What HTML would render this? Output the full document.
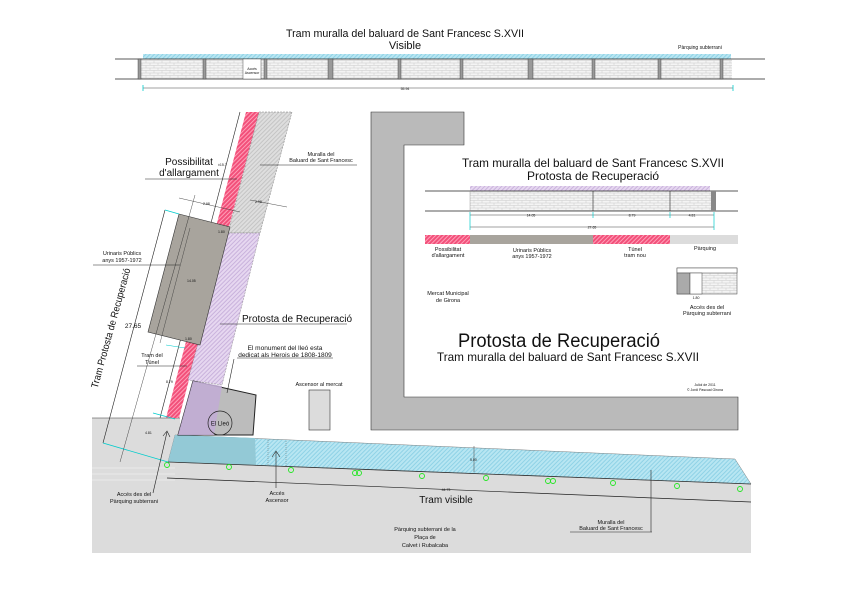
<!DOCTYPE html>
<html><head><meta charset="utf-8"><style>
html,body{margin:0;padding:0;background:#fff}
svg{display:block}
text{font-family:"Liberation Sans",sans-serif;fill:#111}
</style></head><body>
<svg width="842" height="595" viewBox="0 0 842 595" xmlns="http://www.w3.org/2000/svg">
<defs>
<pattern id="red" width="3" height="3" patternUnits="userSpaceOnUse" patternTransform="rotate(45)"><rect width="3" height="3" fill="#f2507a"/><rect width="1" height="3" fill="#ff9fb8"/></pattern>
<pattern id="gry" width="3" height="3" patternUnits="userSpaceOnUse" patternTransform="rotate(45)"><rect width="3" height="3" fill="#dedede"/><rect width="1" height="3" fill="#c4c4c4"/></pattern>
<pattern id="pur" width="3" height="3" patternUnits="userSpaceOnUse" patternTransform="rotate(45)"><rect width="3" height="3" fill="#e6d7f0"/><rect width="1" height="3" fill="#c9b2dc"/></pattern>
<pattern id="cy" width="3" height="3" patternUnits="userSpaceOnUse" patternTransform="rotate(45)"><rect width="3" height="3" fill="#b8e6f2"/><rect width="1" height="3" fill="#8fd2e6"/></pattern>
<pattern id="brick" width="8" height="5" patternUnits="userSpaceOnUse"><rect width="8" height="5" fill="#f4f4f4"/><path d="M0 0.5H8M0 3H8M2 0.5V3M6 3V5.5" stroke="#c8c8c8" stroke-width="0.5"/></pattern>
</defs>

<!-- top section -->
<text x="405" y="37" font-size="11" text-anchor="middle" textLength="238" lengthAdjust="spacingAndGlyphs">Tram muralla del baluard de Sant Francesc S.XVII</text>
<text x="405" y="49" font-size="11" text-anchor="middle">Visible</text>
<text x="700" y="49" font-size="5" text-anchor="middle">Pàrquing subterrani</text>
<rect x="143" y="54" width="588" height="5" fill="url(#cy)"/>
<rect x="140" y="59" width="592" height="20" fill="url(#brick)"/>
<line x1="115" y1="59" x2="765" y2="59" stroke="#222" stroke-width="0.8"/>
<line x1="115" y1="79" x2="765" y2="79" stroke="#222" stroke-width="0.8"/>
<g fill="#999" stroke="#333" stroke-width="0.4">
<rect x="138" y="59" width="3" height="20"/><rect x="203" y="59" width="3" height="20"/><rect x="264" y="59" width="3" height="20"/><rect x="328" y="59" width="5" height="20"/><rect x="398" y="59" width="3" height="20"/><rect x="460" y="59" width="3" height="20"/><rect x="528" y="59" width="5" height="20"/><rect x="592" y="59" width="3" height="20"/><rect x="658" y="59" width="3" height="20"/><rect x="720" y="59" width="3" height="20"/>
</g>
<rect x="243" y="59" width="18" height="20" fill="#fff" stroke="#333" stroke-width="0.4"/>
<text x="252" y="70" font-size="3.5" text-anchor="middle">Accés</text><text x="252" y="74" font-size="3.5" text-anchor="middle">Ascensor</text>
<line x1="143" y1="88" x2="733" y2="88" stroke="#444" stroke-width="0.5"/>
<line x1="143" y1="85" x2="143" y2="91" stroke="#0cc" stroke-width="0.8"/><line x1="733" y1="85" x2="733" y2="91" stroke="#0cc" stroke-width="0.8"/>
<text x="405" y="90" font-size="3.5" text-anchor="middle">55.94</text>

<!-- gray frame -->
<path d="M371 112H464V145H404V397H738V430H371Z" fill="#bababa" stroke="#333" stroke-width="0.6"/>

<!-- right panel -->
<text x="593" y="167" font-size="12" text-anchor="middle" textLength="262" lengthAdjust="spacingAndGlyphs">Tram muralla del baluard de Sant Francesc S.XVII</text>
<text x="593" y="180" font-size="12" text-anchor="middle">Protosta de Recuperació</text>
<rect x="470" y="186" width="240" height="5" fill="url(#pur)"/>
<rect x="470" y="191" width="242" height="20" fill="url(#brick)"/>
<line x1="425" y1="191" x2="738" y2="191" stroke="#222" stroke-width="0.8"/>
<line x1="425" y1="211" x2="738" y2="211" stroke="#222" stroke-width="0.8"/>
<line x1="470" y1="191" x2="470" y2="211" stroke="#888" stroke-width="0.4"/>
<line x1="593" y1="191" x2="593" y2="211" stroke="#222" stroke-width="0.6"/>
<line x1="670" y1="191" x2="670" y2="211" stroke="#222" stroke-width="0.6"/>
<rect x="711" y="191" width="5" height="20" fill="#888"/>
<line x1="470" y1="215" x2="714" y2="215" stroke="#444" stroke-width="0.5"/>
<line x1="470" y1="227" x2="714" y2="227" stroke="#444" stroke-width="0.5"/>
<g stroke="#0cc" stroke-width="0.7"><line x1="470" y1="212" x2="470" y2="230"/><line x1="593" y1="212" x2="593" y2="218"/><line x1="670" y1="212" x2="670" y2="218"/><line x1="714" y1="212" x2="714" y2="230"/></g>
<text x="531" y="216.5" font-size="3.5" text-anchor="middle">14.05</text><text x="632" y="216.5" font-size="3.5" text-anchor="middle">8.79</text><text x="692" y="216.5" font-size="3.5" text-anchor="middle">4.81</text><text x="592" y="228.5" font-size="3.5" text-anchor="middle">27.65</text>
<rect x="425" y="235" width="45" height="9" fill="url(#red)"/>
<rect x="470" y="235" width="123" height="9" fill="#a8a49d"/>
<rect x="593" y="235" width="77" height="9" fill="url(#red)"/>
<rect x="670" y="235" width="68" height="9" fill="#dcdcdc"/>
<g font-size="5.5" text-anchor="middle">
<text x="448" y="251">Possibilitat</text><text x="448" y="257">d'allargament</text>
<text x="532" y="252">Urinaris Públics</text><text x="532" y="258">anys 1957-1972</text>
<text x="635" y="251">Túnel</text><text x="635" y="257">tram nou</text>
<text x="705" y="250">Pàrquing</text>
<text x="448" y="295">Mercat Municipal</text><text x="448" y="302">de Girona</text>
<text x="707" y="309">Accés des del</text><text x="707" y="315">Pàrquing subterrani</text>
</g>
<rect x="677" y="268" width="60" height="26" fill="url(#brick)" stroke="#444" stroke-width="0.5"/>
<rect x="677" y="268" width="60" height="5" fill="#fff" stroke="#444" stroke-width="0.5"/>
<rect x="677" y="273" width="13" height="21" fill="#aaa" stroke="#444" stroke-width="0.5"/>
<rect x="690" y="273" width="12" height="21" fill="#fff" stroke="#444" stroke-width="0.5"/>
<text x="696" y="299" font-size="3.5" text-anchor="middle">1.80</text>
<text x="559" y="347" font-size="19" text-anchor="middle" textLength="202" lengthAdjust="spacingAndGlyphs">Protosta de Recuperació</text>
<text x="568" y="361" font-size="12" text-anchor="middle" textLength="262" lengthAdjust="spacingAndGlyphs">Tram muralla del baluard de Sant Francesc S.XVII</text>
<text x="705" y="386" font-size="3.5" text-anchor="middle">Juliol de 2011</text>
<text x="705" y="391" font-size="3.5" text-anchor="middle">© Jordi Pascual Girona</text>

<!-- ground -->
<path d="M92 418H180V435L735 459L751 484V553H92Z" fill="#dcdcdc"/>
<line x1="92" y1="418" x2="180" y2="418" stroke="#333" stroke-width="0.6"/>
<g stroke="#fff" stroke-width="0.6" opacity="0.8"><line x1="92" y1="468" x2="175" y2="468"/><line x1="92" y1="474" x2="175" y2="474"/><line x1="92" y1="480" x2="175" y2="480"/></g>
<!-- cyan band -->
<path d="M175 435L735 459L751 484L168 462Z" fill="url(#cy)" stroke="#666" stroke-width="0.4"/>
<path d="M175 435L255 438L256 465L168 462Z" fill="#93c9d6"/>
<line x1="168" y1="462" x2="751" y2="484" stroke="#333" stroke-width="0.8"/>
<line x1="167" y1="478" x2="751" y2="502" stroke="#222" stroke-width="0.7"/>
<text x="446" y="491" font-size="3.5" text-anchor="middle">44.73</text>
<line x1="474" y1="446" x2="474" y2="472" stroke="#444" stroke-width="0.5"/>
<text x="470" y="461" font-size="3.5">5.00</text>
<line x1="268" y1="440" x2="268" y2="466" stroke="#555" stroke-width="0.4" stroke-dasharray="1,1"/>
<line x1="286" y1="441" x2="286" y2="467" stroke="#555" stroke-width="0.4" stroke-dasharray="1,1"/>
<g fill="none" stroke="#22e622" stroke-width="0.9">
<circle cx="167" cy="465" r="2.5"/><circle cx="229" cy="467" r="2.5"/><circle cx="291" cy="470" r="2.5"/><circle cx="355" cy="473" r="2.5"/><circle cx="359" cy="473" r="2.5"/><circle cx="422" cy="476" r="2.5"/><circle cx="486" cy="478" r="2.5"/><circle cx="548" cy="481" r="2.5"/><circle cx="553" cy="481" r="2.5"/><circle cx="613" cy="483" r="2.5"/><circle cx="677" cy="486" r="2.5"/><circle cx="740" cy="489" r="2.5"/>
</g>

<!-- diagonal strips -->
<path d="M246 112L259 112L179 418L166 418Z" fill="url(#red)"/>
<path d="M259 112L292 112L260 233L228 233Z" fill="url(#gry)" stroke="#666" stroke-width="0.4" stroke-dasharray="2,1"/>
<path d="M228 233L260 233L222 385L188 380Z" fill="url(#pur)" stroke="#777" stroke-width="0.4" stroke-dasharray="2,1"/>
<line x1="240" y1="112" x2="160" y2="418" stroke="#222" stroke-width="0.6"/>
<!-- urinal box -->
<path d="M179 214L230 227L200 345L148 332Z" fill="#a8a49d" stroke="#333" stroke-width="0.6"/>
<line x1="190" y1="228" x2="160" y2="343" stroke="#333" stroke-width="0.4"/>
<!-- lion box -->
<path d="M193 381L256 395L253 435L178 435Z" fill="#bcbcbc" stroke="#222" stroke-width="1"/>
<path d="M193 381L222 386L214 435L178 435Z" fill="#c1acd4" opacity="0.9"/>
<circle cx="220" cy="423" r="12" fill="none" stroke="#222" stroke-width="0.7"/>
<text x="220" y="425.5" font-size="6" text-anchor="middle">El Lleó</text>
<!-- ascensor -->
<rect x="309" y="390" width="21" height="40" fill="#dcdcdc" stroke="#333" stroke-width="0.6"/>
<text x="319" y="386" font-size="5.5" text-anchor="middle">Ascensor al mercat</text>

<!-- dimension lines left -->
<line x1="103" y1="443" x2="165" y2="210" stroke="#222" stroke-width="0.6"/>
<line x1="165" y1="210" x2="179" y2="214" stroke="#0cc" stroke-width="0.8"/>
<line x1="103" y1="443" x2="168" y2="462" stroke="#0cc" stroke-width="0.8"/>
<line x1="120" y1="462" x2="195" y2="195" stroke="#222" stroke-width="0.4"/>
<line x1="153" y1="413" x2="175" y2="419" stroke="#0cc" stroke-width="0.8"/>
<line x1="166" y1="345" x2="185" y2="348" stroke="#0cc" stroke-width="0.6"/>
<line x1="179" y1="198" x2="240" y2="212" stroke="#222" stroke-width="0.4"/>
<line x1="250" y1="200" x2="287" y2="207" stroke="#222" stroke-width="0.4"/>
<g font-size="3.5"><text x="203" y="205">2.98</text><text x="255" y="203">2.98</text><text x="218" y="233">1.80</text><text x="187" y="282">14.05</text><text x="185" y="340">1.80</text><text x="166" y="383">8.79</text><text x="145" y="434">4.81</text><text x="218" y="166">±15.7</text></g>
<text x="133" y="328" font-size="6.5" text-anchor="middle">27.65</text>
<text transform="translate(114,329) rotate(-74.6)" font-size="10" text-anchor="middle" textLength="124" lengthAdjust="spacingAndGlyphs">Tram Protosta de Recuperació</text>

<!-- labels with leaders -->
<g stroke="#222" stroke-width="0.6" fill="none">
<line x1="145" y1="179" x2="237" y2="179"/>
<line x1="260" y1="165" x2="357" y2="165"/>
<line x1="93" y1="265" x2="180" y2="265"/>
<line x1="220" y1="324" x2="347" y2="324"/>
<line x1="237" y1="358" x2="333" y2="358"/><line x1="234" y1="359" x2="227" y2="393"/>
<line x1="137" y1="366" x2="187" y2="366"/>
<line x1="153" y1="493" x2="167" y2="432"/><path d="M163 436L167 431L170 437"/>
<line x1="276" y1="488" x2="276" y2="452"/><path d="M272 457L276 451L280 457"/>
<line x1="651" y1="470" x2="651" y2="532"/><line x1="570" y1="532" x2="652" y2="532"/>
</g>
<text x="189" y="165" font-size="10" text-anchor="middle">Possibilitat</text>
<text x="189" y="176" font-size="10" text-anchor="middle">d'allargament</text>
<text x="321" y="156" font-size="5.5" text-anchor="middle">Muralla del</text>
<text x="321" y="162" font-size="5.5" text-anchor="middle">Baluard de Sant Francesc</text>
<text x="122" y="255" font-size="5.5" text-anchor="middle">Urinaris Públics</text>
<text x="122" y="262" font-size="5.5" text-anchor="middle">anys 1957-1972</text>
<text x="297" y="322" font-size="10" text-anchor="middle">Protosta de Recuperació</text>
<text x="285" y="350" font-size="6.5" text-anchor="middle">El monument del lleó esta</text>
<text x="285" y="357" font-size="6.5" text-anchor="middle">dedicat als Herois de 1808-1809</text>
<text x="152" y="357" font-size="5.5" text-anchor="middle">Tram del</text>
<text x="152" y="364" font-size="5.5" text-anchor="middle">Túnel</text>
<text x="134" y="496" font-size="5.5" text-anchor="middle">Accés des del</text>
<text x="134" y="503" font-size="5.5" text-anchor="middle">Pàrquing subterrani</text>
<text x="277" y="495" font-size="5.5" text-anchor="middle">Accés</text>
<text x="277" y="502" font-size="5.5" text-anchor="middle">Ascensor</text>
<text x="446" y="503" font-size="10" text-anchor="middle">Tram visible</text>
<text x="611" y="524" font-size="5.5" text-anchor="middle">Muralla del</text>
<text x="611" y="530" font-size="5.5" text-anchor="middle">Baluard de Sant Francesc</text>
<text x="425" y="531" font-size="5.5" text-anchor="middle">Pàrquing subterrani de la</text>
<text x="425" y="539" font-size="5.5" text-anchor="middle">Plaça de</text>
<text x="425" y="547" font-size="5.5" text-anchor="middle">Calvet i Rubalcaba</text>
</svg>
</body></html>
